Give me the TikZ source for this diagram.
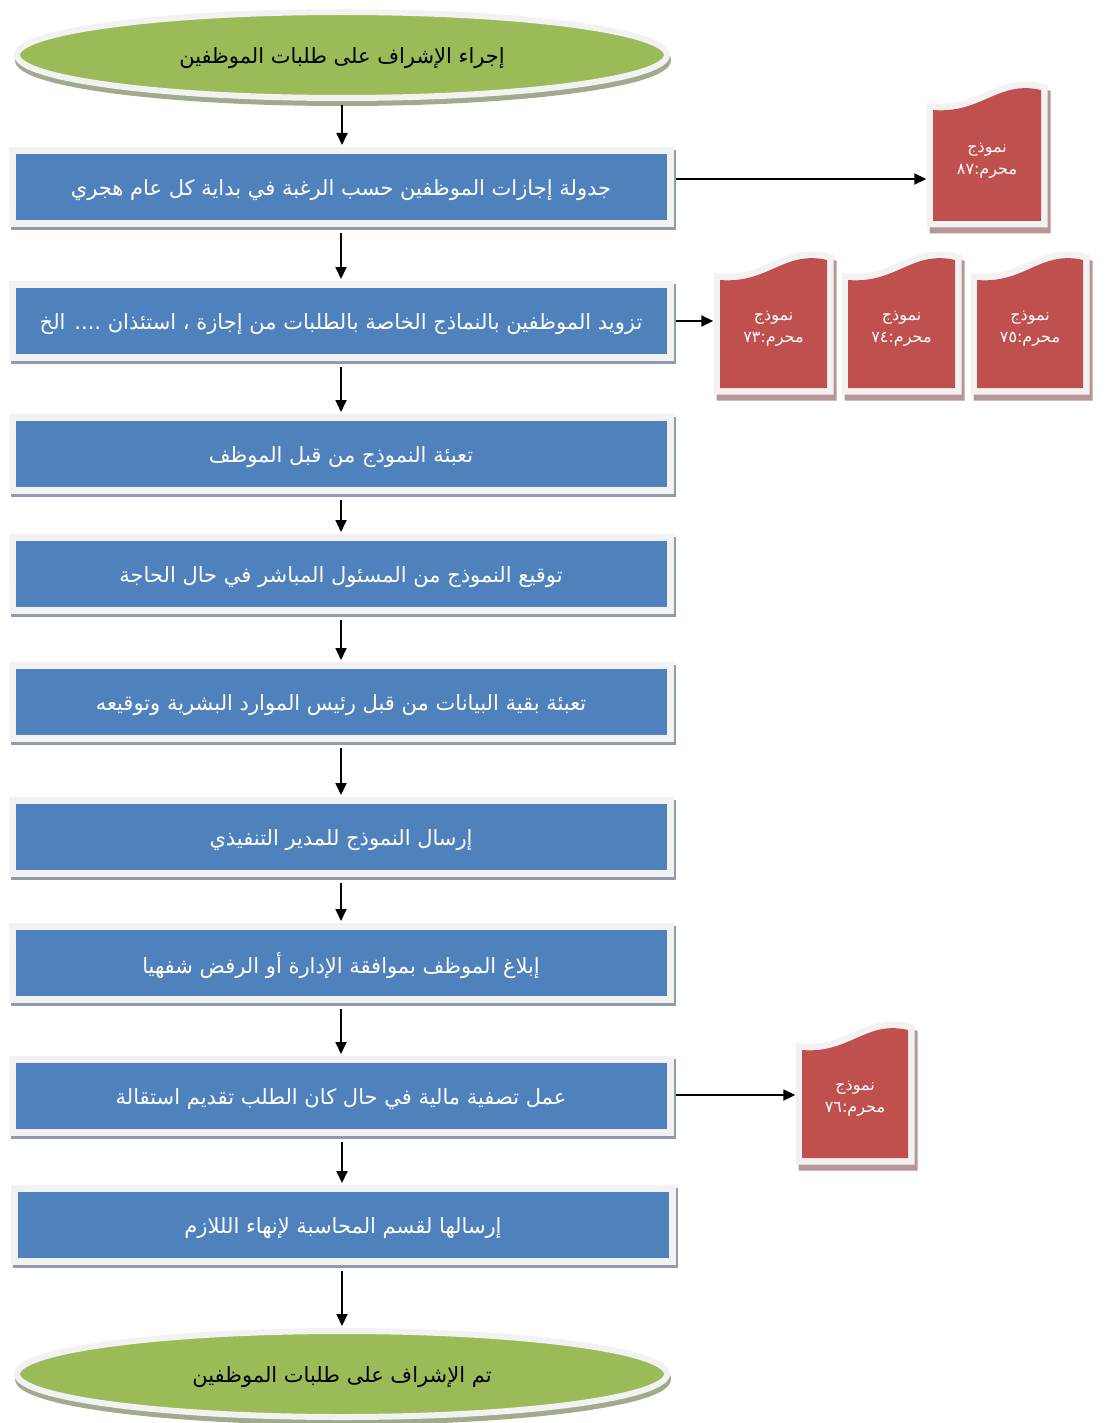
\documentclass[tikz,border=0pt]{standalone}
\usepackage{fontspec}
\TeXXeTstate=1
\newfontfamily\arabicfont[Script=Arabic]{DejaVu Sans}
\usetikzlibrary{arrows.meta,shapes.geometric}
\definecolor{boxblue}{RGB}{79,129,189}
\definecolor{ovgreen}{RGB}{155,187,89}
\definecolor{docred}{RGB}{192,80,77}
\definecolor{framegray}{RGB}{242,242,242}
\definecolor{boxshadow}{RGB}{145,155,172}
\definecolor{ovshadow}{RGB}{160,170,140}
\definecolor{docshadow}{RGB}{185,150,150}
\newcommand{\artxt}[1]{\raisebox{-3pt}[\height][\depth]{\beginR #1\endR}}
\newcommand{\docform}[6]{%
  \fill[docshadow, draw=docshadow, line width=13pt, transform canvas={shift={(3pt,-6pt)}}]
    (#2,#5) -- (#2,#4+22) .. controls ({#2+0.45*(#3-#2)},#4+26) and ({#2+0.6*(#3-#2)},#4-8) .. (#3,#4+2) -- (#3,#5) -- cycle;
  \fill[framegray, draw=framegray, line width=13pt]
    (#2,#5) -- (#2,#4+22) .. controls ({#2+0.45*(#3-#2)},#4+26) and ({#2+0.6*(#3-#2)},#4-8) .. (#3,#4+2) -- (#3,#5) -- cycle;
  \fill[docred]
    (#2,#5) -- (#2,#4+22) .. controls ({#2+0.45*(#3-#2)},#4+26) and ({#2+0.6*(#3-#2)},#4-8) .. (#3,#4+2) -- (#3,#5) -- cycle;
  \node[doctext, minimum width={#3-#2+13}] (#1) at ({(#2+#3)/2},{(#4+#5)/2+6})
    {\beginR نموذج\endR\\\beginR محرم:#6\endR};
}
\begin{document}
\begin{tikzpicture}[x=1pt,y=-1pt,
  stepbox/.style={rectangle, fill=boxblue, draw=framegray, line width=7pt,
    minimum width=658pt, minimum height=73pt, inner sep=0pt,
    font=\arabicfont\fontsize{21}{25}\selectfont, text=white,
    preaction={draw=boxshadow, fill=boxshadow, transform canvas={shift={(2pt,-3pt)}}}},
  ovalbox/.style={ellipse, fill=ovgreen, draw=framegray, line width=6pt,
    minimum width=650pt, minimum height=86pt, inner sep=0pt,
    font=\arabicfont\fontsize{21}{25}\selectfont, text=black,
    preaction={draw=ovshadow, fill=ovshadow, transform canvas={shift={(1pt,-5pt)}}}},
  doctext/.style={rectangle, inner sep=0pt, align=center, text=white,
    font=\arabicfont\fontsize{16}{22}\selectfont},
  arr/.style={line width=1.8pt, -{Triangle[length=12pt,width=11pt]}}
]
\useasboundingbox (0,0) rectangle (1106,1423);
\fill[white] (0,0) rectangle (1106,1423);

\node[ovalbox] (start) at (342,55) {\artxt{إجراء الإشراف على طلبات الموظفين}};
\node[stepbox] (b1) at (341,187) {\artxt{جدولة إجازات الموظفين حسب الرغبة في بداية كل عام هجري}};
\node[stepbox] (b2) at (341,321) {\artxt{تزويد الموظفين بالنماذج الخاصة بالطلبات من إجازة ، استئذان .... الخ}};
\node[stepbox] (b3) at (341,454) {\artxt{تعبئة النموذج من قبل الموظف}};
\node[stepbox] (b4) at (341,574) {\artxt{توقيع النموذج من المسئول المباشر في حال الحاجة}};
\node[stepbox] (b5) at (341,702) {\artxt{تعبئة بقية البيانات من قبل رئيس الموارد البشرية وتوقيعه}};
\node[stepbox] (b6) at (341,837) {\artxt{إرسال النموذج للمدير التنفيذي}};
\node[stepbox] (b7) at (341,963) {\artxt{إبلاغ الموظف بموافقة الإدارة أو الرفض شفهيا}};
\node[stepbox] (b8) at (341,1096) {\artxt{عمل تصفية مالية في حال كان الطلب تقديم استقالة}};
\node[stepbox] (b9) at (343,1225) {\artxt{إرسالها لقسم المحاسبة لإنهاء الللازم}};
\node[ovalbox] (stop) at (342,1374) {\artxt{تم الإشراف على طلبات الموظفين}};

\docform{d87}{933}{1041}{88}{221}{٨٧}
\docform{d73}{720}{827}{258}{388}{٧٣}
\docform{d74}{848}{955}{258}{388}{٧٤}
\docform{d75}{977}{1083}{258}{388}{٧٥}
\docform{d76}{802}{908}{1028}{1158}{٧٦}

\draw[arr] ([yshift=-4pt]start.south) -- ([yshift=2pt]start.south |- b1.north);
\draw[arr] ([yshift=-6pt]b1.south) -- ([yshift=2pt]b1.south |- b2.north);
\draw[arr] ([yshift=-6pt]b2.south) -- ([yshift=2pt]b2.south |- b3.north);
\draw[arr] ([yshift=-6pt]b3.south) -- ([yshift=2pt]b3.south |- b4.north);
\draw[arr] ([yshift=-6pt]b4.south) -- ([yshift=2pt]b4.south |- b5.north);
\draw[arr] ([yshift=-6pt]b5.south) -- ([yshift=2pt]b5.south |- b6.north);
\draw[arr] ([yshift=-6pt]b6.south) -- ([yshift=2pt]b6.south |- b7.north);
\draw[arr] ([yshift=-6pt]b7.south) -- ([yshift=2pt]b7.south |- b8.north);
\draw[arr] ([xshift=1pt,yshift=-6pt]b8.south) -- ([xshift=1pt,yshift=2pt]b8.south |- b9.north);
\draw[arr] ([xshift=-1pt,yshift=-6pt]b9.south) -- ([xshift=-1pt,yshift=2pt]b9.south |- stop.north);

\draw[arr] ([xshift=2pt,yshift=8pt]b1.east) -- ([yshift=8pt]b1.east -| d87.west);
\draw[arr] ([xshift=2pt]b2.east) -- (b2.east -| d73.west);
\draw[arr] ([xshift=2pt,yshift=1pt]b8.east) -- ([yshift=1pt]b8.east -| d76.west);
\end{tikzpicture}
\end{document}
